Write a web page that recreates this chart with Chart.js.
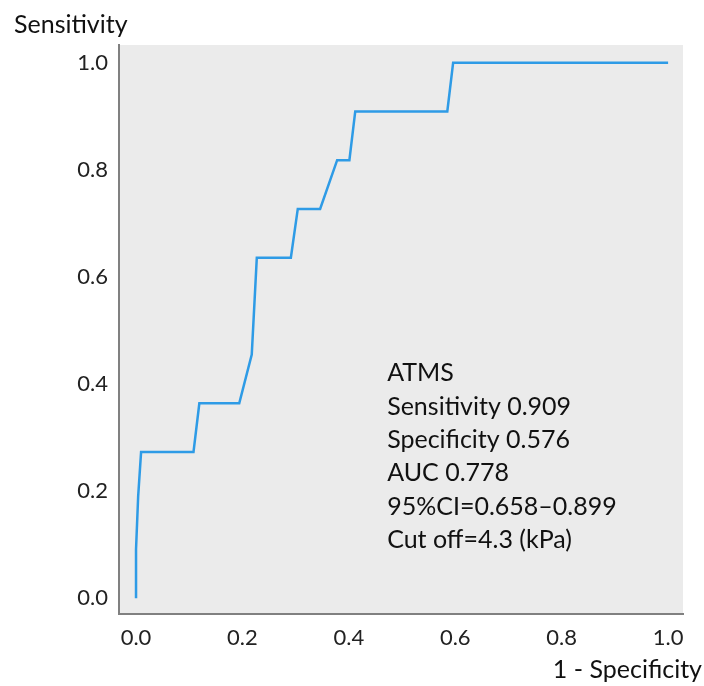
<!DOCTYPE html>
<html>
<head>
<meta charset="utf-8">
<script src="https://cdn.jsdelivr.net/npm/chart.js@4.4.1/dist/chart.umd.min.js"></script>
<style>
  html, body { margin: 0; padding: 0; background: #ffffff; }
  #wrap { width: 704px; height: 686px; position: relative; }
</style>
</head>
<body>
<div id="wrap"><canvas id="c" width="704" height="686"></canvas></div>
<script>
// ROC curve points
const fprValues = [0, 0, 0.004, 0.0095, 0.108, 0.119, 0.194, 0.2175, 0.227, 0.291, 0.304, 0.346, 0.378, 0.401, 0.412, 0.585, 0.596, 1.0];
const tprValues = [0, 0.091, 0.19, 0.273, 0.273, 0.364, 0.364, 0.455, 0.636, 0.636, 0.727, 0.727, 0.818, 0.818, 0.909, 0.909, 1.0, 1.0];
const tickValues = [0, 0.2, 0.4, 0.6, 0.8, 1.0];
const xTitle = '1 - Specificity';
const yTitle = 'Sensitivity';
const annotationLines = ['ATMS', 'Sensitivity 0.909', 'Specificity 0.576', 'AUC 0.778', '95%CI=0.658\u20130.899', 'Cut off=4.3 (kPa)'];
const annotationAnchor = [0.472, 0.405]; // data coords of first line baseline

const FONT = 'Lato, "Open Sans", sans-serif';
const points = fprValues.map((x, i) => ({ x: x, y: tprValues[i] }));

const bgPlugin = {
  id: 'bg',
  beforeDraw(chart) {
    const { ctx, chartArea: a } = chart;
    ctx.save();
    ctx.fillStyle = '#ebebeb';
    ctx.fillRect(a.left, a.top, a.right - a.left, a.bottom - a.top);
    ctx.restore();
  },
  afterDraw(chart) {
    const { ctx, scales } = chart;
    ctx.save();
    ctx.fillStyle = '#111111';
    ctx.textBaseline = 'alphabetic';
    // axis titles
    ctx.font = '25px ' + FONT;
    ctx.textAlign = 'left';
    ctx.fillText(yTitle, 14, 33);
    ctx.textAlign = 'right';
    ctx.fillText(xTitle, 702, 678);
    // annotation
    ctx.font = '25px ' + FONT;
    ctx.textAlign = 'left';
    const x0 = scales.x.getPixelForValue(annotationAnchor[0]);
    const y0 = scales.y.getPixelForValue(annotationAnchor[1]);
    annotationLines.forEach((t, i) => ctx.fillText(t, x0, y0 + i * 33.3));
    ctx.restore();
  }
};

new Chart(document.getElementById('c'), {
  type: 'scatter',
  data: {
    datasets: [{
      data: points,
      showLine: true,
      borderColor: '#2e9be6',
      borderWidth: 2.5,
      pointRadius: 0,
      fill: false,
      tension: 0
    }]
  },
  options: {
    responsive: false,
    animation: false,
    layout: { padding: { top: 45, right: 21, left: 0, bottom: 0 } },
    plugins: { legend: { display: false }, tooltip: { enabled: false }, title: { display: false } },
    scales: {
      x: {
        type: 'linear',
        min: -0.032,
        max: 1.028,
        afterBuildTicks: s => { s.ticks = tickValues.map(v => ({ value: v })); },
        afterFit: s => { s.height = 72; },
        ticks: {
          callback: v => Number(v).toFixed(1),
          font: { family: FONT, size: 22 },
          color: '#222222',
          padding: 11,
          maxRotation: 0,
          autoSkip: false
        },
        grid: { display: true, color: 'rgba(0,0,0,0)', drawTicks: false },
        border: { display: true, color: '#808080', width: 2 }
      },
      y: {
        type: 'linear',
        min: -0.0293,
        max: 1.033,
        afterBuildTicks: s => { s.ticks = tickValues.map(v => ({ value: v })); },
        afterFit: s => { s.width = 119; },
        ticks: {
          callback: v => Number(v).toFixed(1),
          font: { family: FONT, size: 22 },
          color: '#222222',
          padding: 11,
          autoSkip: false
        },
        grid: { display: true, color: 'rgba(0,0,0,0)', drawTicks: false },
        border: { display: true, color: '#808080', width: 2 }
      }
    }
  },
  plugins: [bgPlugin]
});
</script>
</body>
</html>
